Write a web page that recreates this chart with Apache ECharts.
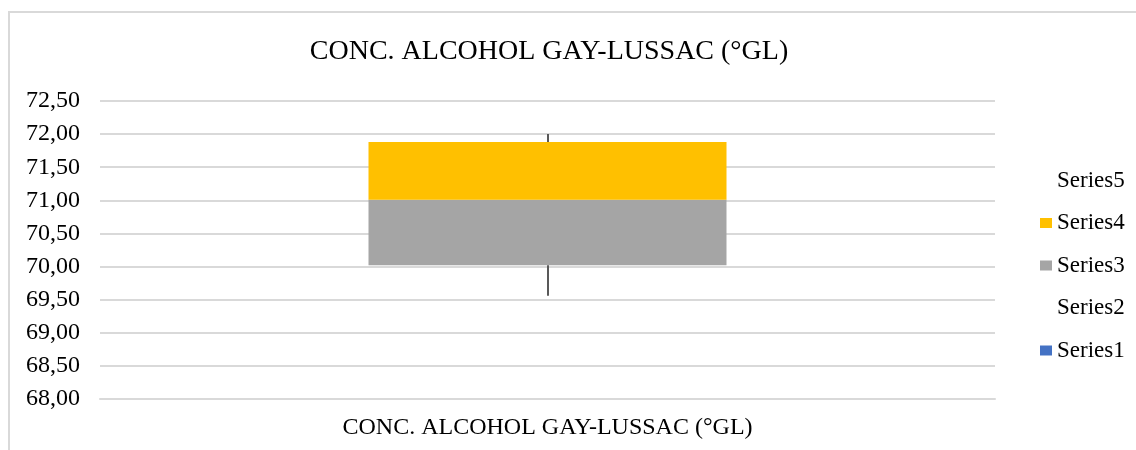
<!DOCTYPE html>
<html>
<head>
<meta charset="utf-8">
<script src="https://cdn.jsdelivr.net/npm/echarts@6/dist/echarts.min.js"></script>
<style>
html,body{margin:0;padding:0;background:#fff;}
#chart{width:1136px;height:450px;}
</style>
</head>
<body>
<div id="chart"></div>
<script>
const categories = ['CONC. ALCOHOL GAY-LUSSAC (°GL)'];
const series1 = [0];
const series2 = [70.02];
const series3 = [0.99];
const series4 = [0.87];
const series5 = [0.12];
const whiskerLow = [69.56, 70.02];
const whiskerHigh = [71.88, 72.0];
const yTicks = {min: 68, max: 72.5, interval: 0.5};

const FONT = 'Liberation Serif';
const chart = echarts.init(document.getElementById('chart'));
const cat = categories[0];
chart.setOption({
  animation: false,
  title: {
    text: 'CONC. ALCOHOL GAY-LUSSAC (°GL)',
    left: 544, textAlign: 'center', top: 33,
    textStyle: {fontFamily: FONT, fontSize: 28, fontWeight: 'normal', color: '#000'}
  },
  graphic: [{
    type: 'polyline', silent: true,
    shape: {points: [[9, 450], [9, 12], [1136, 12]]},
    style: {stroke: '#d9d9d9', lineWidth: 2, fill: null}
  }],
  legend: {
    orient: 'vertical', left: 1035, top: 164,
    data: ['Series5', 'Series4', 'Series3', 'Series2', 'Series1'],
    itemWidth: 12, itemHeight: 10, itemGap: 19.5,
    textStyle: {fontFamily: FONT, fontSize: 23, color: '#000'},
    icon: 'rect'
  },
  grid: {left: 100, right: 141, top: 101, bottom: 51},
  xAxis: {
    type: 'category', data: categories,
    axisLine: {lineStyle: {color: '#d9d9d9', width: 2}},
    axisTick: {show: false},
    axisLabel: {fontFamily: FONT, fontSize: 24, color: '#000', margin: 17}
  },
  yAxis: {
    type: 'value', min: yTicks.min, max: yTicks.max, interval: yTicks.interval,
    axisLine: {show: false}, axisTick: {show: false},
    splitLine: {lineStyle: {color: '#d9d9d9', width: 2}},
    axisLabel: {fontFamily: FONT, fontSize: 24, color: '#000', margin: 20,
      formatter: v => v.toFixed(2).replace('.', ',')}
  },
  series: [
    {name: 'Series1', type: 'bar', stack: 'box', data: series1, barWidth: '40%', itemStyle: {color: '#4472C4'}},
    {name: 'Series2', type: 'bar', stack: 'box', data: series2, itemStyle: {color: 'rgba(0,0,0,0)'}},
    {name: 'Series3', type: 'bar', stack: 'box', data: series3, itemStyle: {color: '#A5A5A5'},
      markLine: {silent: true, symbol: ['none', 'none'], label: {show: false},
        lineStyle: {color: '#595959', width: 2, type: 'solid'},
        data: [
          [{coord: [cat, whiskerLow[0]]}, {coord: [cat, whiskerLow[1]]}],
          [{coord: [cat, whiskerHigh[0]]}, {coord: [cat, whiskerHigh[1]]}]
        ]}},
    {name: 'Series4', type: 'bar', stack: 'box', data: series4, itemStyle: {color: '#FFC000'}},
    {name: 'Series5', type: 'bar', stack: 'box', data: series5, itemStyle: {color: 'rgba(0,0,0,0)'}}
  ]
});
</script>
</body>
</html>
